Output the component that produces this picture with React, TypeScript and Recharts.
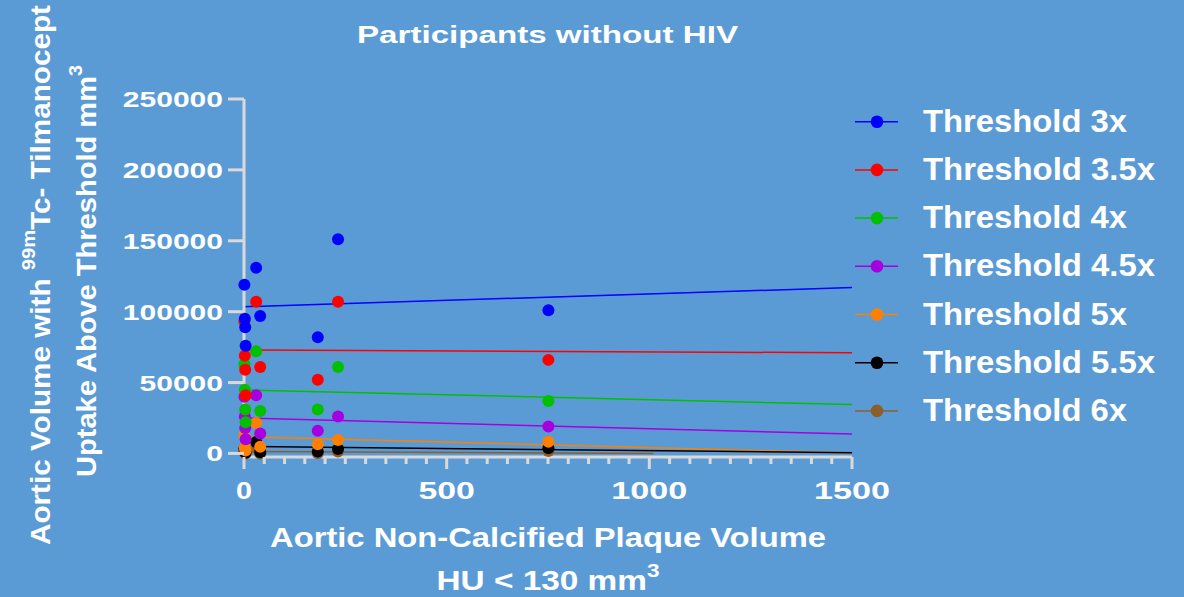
import React from 'react';
import { ScatterChart, Scatter, XAxis, YAxis, ReferenceLine, Label } from 'recharts';

// plaque volume (x) per participant
const plaqueVolume = [1, 2, 3, 4, 30, 40, 182, 232, 751];

// aortic volume above threshold (y) per participant
const threshold3 = [119000, 95000, 89000, 76000, 131000, 97000, 82000, 151000, 101000];
const threshold35 = [93000, 69000, 59000, 41000, 107000, 61000, 52000, 107000, 66000];
const threshold4 = [63000, 45000, 31000, 22000, 72000, 30000, 31000, 61000, 37000];
const threshold45 = [40000, 26000, 18000, 10000, 41000, 14000, 16000, 26000, 19000];
const threshold5 = [13000, 4600, 3000, 2000, 21500, 4800, 6500, 9500, 8300];
const threshold55 = [3500, 1500, 1000, 500, 8000, 800, 1300, 3200, 3700];
const threshold6 = [1500, 600, 300, 0, 4000, 0, 200, 1300, 1800];

const seriesNames = ['Threshold 3x', 'Threshold 3.5x', 'Threshold 4x', 'Threshold 4.5x', 'Threshold 5x', 'Threshold 5.5x', 'Threshold 6x'];
const seriesColors = ['#0000ff', '#ff0000', '#00c000', '#a600e0', '#ff8000', '#000000', '#8c5f2a'];
const seriesValues = [threshold3, threshold35, threshold4, threshold45, threshold5, threshold55, threshold6];

// linear fits (start / end)
const fitStartX = [0, 0, 0, 0, 0, 0, 0];
const fitEndX = [1500, 1500, 1500, 1500, 1500, 1500, 1010];
const fitStartY = [103500, 73000, 44800, 25000, 11800, 5000, 1400];
const fitEndY = [117000, 71000, 34500, 13700, 300, 500, 0];

const xMajorTicks = [0, 500, 1000, 1500];
const xTicks = Array.from({ length: 31 }, (_, i) => i * 50);
const yTicks = [0, 50000, 100000, 150000, 200000, 250000];

const AXIS = '#d9d9d9';
const FONT = '"Liberation Sans", Arial, sans-serif';

const XTick = (props: any) => {
  const { x, y, payload } = props;
  const major = xMajorTicks.includes(payload.value);
  const label = String(payload.value);
  return (
    <g>
      <line x1={x} y1={y} x2={x} y2={y + (major ? 12 : 7)} stroke={AXIS} strokeWidth={3} />
      {major && (
        <text x={x} y={y + 42} textAnchor="middle" fill="#fff" fontSize={24} fontWeight="bold" fontFamily={FONT}
          textLength={label.length === 1 ? 16 : label.length * 19.5 - 2} lengthAdjust="spacingAndGlyphs">
          {label}
        </text>
      )}
    </g>
  );
};

const YTick = (props: any) => {
  const { x, y, payload } = props;
  const label = String(payload.value);
  return (
    <g>
      <line x1={x - 16} y1={y} x2={x} y2={y} stroke={AXIS} strokeWidth={3} />
      <text x={x - 21} y={y + 8} textAnchor="end" fill="#fff" fontSize={22} fontWeight="bold" fontFamily={FONT}
        textLength={label.length * 16.7} lengthAdjust="spacingAndGlyphs">
        {label}
      </text>
    </g>
  );
};

const XAxisTitle = (props: any) => {
  const { x, y, width } = props.viewBox;
  const cx = x + width / 2;
  return (
    <g fill="#fff" fontWeight="bold" fontFamily={FONT} fontSize={28}>
      <text x={cx} y={y + 90} textAnchor="middle" textLength={556} lengthAdjust="spacingAndGlyphs">
        Aortic Non-Calcified Plaque Volume
      </text>
      <text x={cx} y={y + 133} textAnchor="middle" textLength={223} lengthAdjust="spacingAndGlyphs">
        HU &lt; 130 mm<tspan dy={-13} fontSize={19}>3</tspan>
      </text>
    </g>
  );
};

const YAxisTitle = (props: any) => {
  const { x } = props.viewBox;
  const l1x = x - 74;
  const l2x = x - 28;
  return (
    <g fill="#fff" fontWeight="bold" fontFamily={FONT} fontSize={28}>
      <text x={l1x} y={275} transform={`rotate(-90, ${l1x}, 275)`} textAnchor="middle" textLength={540} lengthAdjust="spacingAndGlyphs">
        Aortic Volume with <tspan dy={-15} fontSize={19}>99m</tspan><tspan dy={15}>Tc- Tilmanocept</tspan>
      </text>
      <text x={l2x} y={271} transform={`rotate(-90, ${l2x}, 271)`} textAnchor="middle" textLength={412} lengthAdjust="spacingAndGlyphs">
        Uptake Above Threshold mm<tspan dy={-14} fontSize={19}>3</tspan>
      </text>
    </g>
  );
};

const App: React.FC = () => {
  const series = seriesNames.map((name, i) => ({
    name,
    color: seriesColors[i],
    data: plaqueVolume.map((x, j) => ({ x, y: seriesValues[i][j] })),
  }));

  return (
    <div style={{ position: 'absolute', left: 0, top: 0, width: 1184, height: 597, background: '#5b9bd5', overflow: 'hidden' }}>
      <ScatterChart width={1184} height={597} margin={{ top: 99, right: 332, bottom: 100, left: 124 }}>
        <XAxis type="number" dataKey="x" domain={[0, 1500]} ticks={xTicks} interval={0} height={40}
          tickLine={false} tickSize={0} tickMargin={0} tick={<XTick />}
          axisLine={{ stroke: AXIS, strokeWidth: 3 }}>
          <Label content={XAxisTitle} />
        </XAxis>
        <YAxis type="number" dataKey="y" domain={[-2500, 250000]} ticks={yTicks} interval={0} width={120}
          tickLine={false} tickSize={0} tickMargin={0} tick={<YTick />}
          axisLine={{ stroke: AXIS, strokeWidth: 3 }}>
          <Label content={YAxisTitle} />
        </YAxis>
        {series.map((s, i) => (
          <ReferenceLine key={`fit-${s.name}`}
            segment={[{ x: fitStartX[i], y: fitStartY[i] }, { x: fitEndX[i], y: fitEndY[i] }]}
            stroke={s.color} strokeWidth={1.5} />
        ))}
        {[...series].reverse().map((s) => (
          <Scatter key={s.name} name={s.name} data={s.data} fill={s.color} isAnimationActive={false}
            shape={(p: any) => <circle cx={p.cx} cy={p.cy} r={6} fill={s.color} />} />
        ))}
      </ScatterChart>

      <svg width={1184} height={597} style={{ position: 'absolute', left: 0, top: 0, pointerEvents: 'none' }}>
        <text x={547.5} y={43} textAnchor="middle" fill="#fff" fontSize={23} fontWeight="bold" fontFamily={FONT}
          textLength={381} lengthAdjust="spacingAndGlyphs">
          Participants without HIV
        </text>
        {series.map((s, i) => {
          const cy = 121.7 + i * 48.2;
          return (
            <g key={s.name}>
              <line x1={855} y1={cy} x2={898} y2={cy} stroke={s.color} strokeWidth={1.5} />
              <circle cx={877} cy={cy} r={6.3} fill={s.color} />
              <text x={923} y={cy + 10} fill="#fff" fontSize={31} fontWeight="bold" fontFamily={FONT}
                textLength={s.name.includes('.') ? 232 : 204} lengthAdjust="spacingAndGlyphs">
                {s.name}
              </text>
            </g>
          );
        })}
      </svg>
    </div>
  );
};

export default App;
